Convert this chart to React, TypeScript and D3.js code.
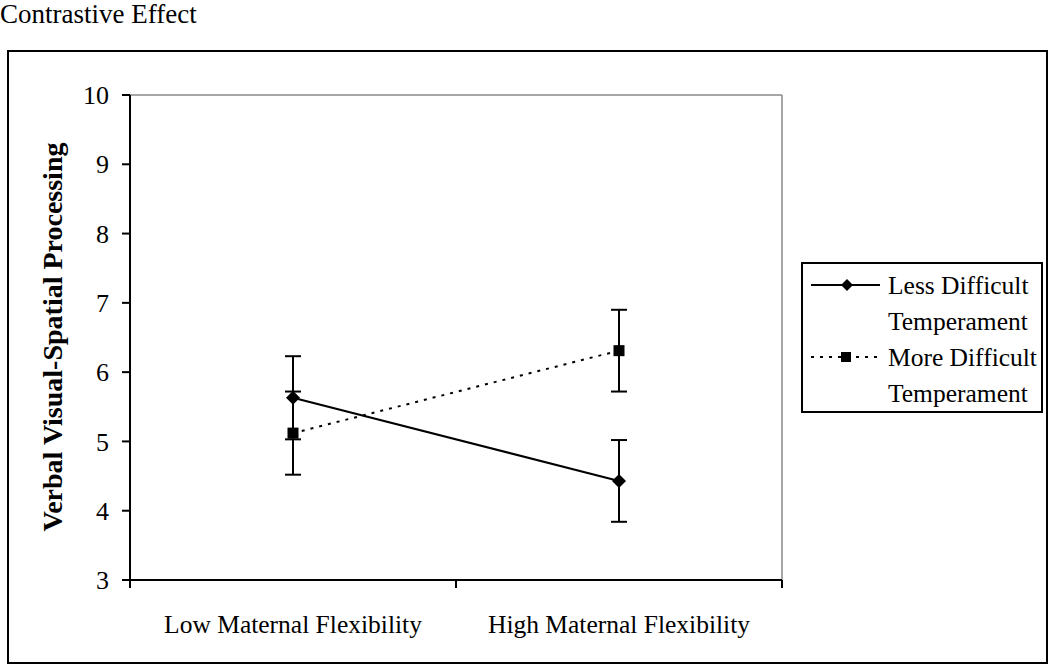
import React from "react";
import * as d3 from "d3";

const categories = ["Low Maternal Flexibility", "High Maternal Flexibility"];
const lessDifficult = [5.63, 4.43];
const lessErr = [0.6, 0.59];
const moreDifficult = [5.12, 6.31];
const moreErr = [0.6, 0.59];
const yTicks = [3, 4, 5, 6, 7, 8, 9, 10];

const W = 1050, H = 666;
const L = 130, R = 782, T = 95, B = 580;
const FONT = "Liberation Serif, Times New Roman, Times, serif";

export default function App() {
  const x = d3.scaleBand<string>().domain(categories).range([L, R]).paddingInner(0).paddingOuter(0);
  const cx = (c: string) => (x(c) as number) + x.bandwidth() / 2;
  const y = d3.scaleLinear().domain([3, 10]).range([B, T]);
  const line = d3.line<number>().x((_, i) => cx(categories[i])).y((v) => y(v));
  const cap = 8;

  const errBars = (vals: number[], errs: number[], key: string) =>
    vals.map((v, i) => {
      const px = cx(categories[i]);
      const y1 = y(v + errs[i]);
      const y2 = y(v - errs[i]);
      return (
        <g key={key + i} stroke="#000" strokeWidth={2}>
          <line x1={px} x2={px} y1={y1} y2={y2} />
          <line x1={px - cap} x2={px + cap} y1={y1} y2={y1} />
          <line x1={px - cap} x2={px + cap} y1={y2} y2={y2} />
        </g>
      );
    });

  const diamond = (px: number, py: number, k: string, s = 7) => (
    <path key={k} d={`M${px},${py - s}L${px + s},${py}L${px},${py + s}L${px - s},${py}Z`} fill="#000" />
  );
  const square = (px: number, py: number, k: string, s = 5.5) => (
    <rect key={k} x={px - s} y={py - s} width={2 * s} height={2 * s} fill="#000" />
  );
  const ts = { fontFamily: FONT };

  return (
    <svg width={W} height={H} style={{ position: "absolute", left: 0, top: 0, background: "#fff", fontFamily: FONT }}>
      <text x={0} y={23} fontSize={27} style={ts}>Contrastive Effect</text>
      <rect x={8} y={51} width={1039} height={612} fill="none" stroke="#000" strokeWidth={2} />

      <line x1={L} x2={R} y1={T} y2={T} stroke="#888" strokeWidth={1.5} />
      <line x1={R} x2={R} y1={T} y2={B} stroke="#888" strokeWidth={1.5} />
      <line x1={L} x2={L} y1={T} y2={B} stroke="#000" strokeWidth={2} />
      <line x1={L} x2={R} y1={B} y2={B} stroke="#000" strokeWidth={2} />

      {yTicks.map((t) => (
        <g key={"yt" + t}>
          <line x1={L - 8} x2={L} y1={y(t)} y2={y(t)} stroke="#000" strokeWidth={2} />
          <text x={109} y={y(t)} dy="0.35em" textAnchor="end" fontSize={26} style={ts}>{t}</text>
        </g>
      ))}
      {[L, (L + R) / 2, R].map((px, i) => (
        <line key={"xt" + i} x1={px} x2={px} y1={B} y2={B + 8} stroke="#000" strokeWidth={2} />
      ))}
      {categories.map((c) => (
        <text key={c} x={cx(c)} y={633} textAnchor="middle" fontSize={25.5} style={ts}>{c}</text>
      ))}

      <text transform={`translate(62,${337}) rotate(-90)`} textAnchor="middle" fontSize={28} fontWeight="bold" style={ts}>
        Verbal Visual-Spatial Processing
      </text>

      {errBars(lessDifficult, lessErr, "le")}
      {errBars(moreDifficult, moreErr, "me")}

      <path d={line(lessDifficult) || ""} fill="none" stroke="#000" strokeWidth={2} />
      <path d={line(moreDifficult) || ""} fill="none" stroke="#000" strokeWidth={2} strokeDasharray="3,6" />
      {lessDifficult.map((v, i) => diamond(cx(categories[i]), y(v), "d" + i))}
      {moreDifficult.map((v, i) => square(cx(categories[i]), y(v), "s" + i))}

      <rect x={802} y={263} width={240} height={149} fill="#fff" stroke="#000" strokeWidth={2} />
      <line x1={811} x2={880} y1={285} y2={285} stroke="#000" strokeWidth={2} />
      {diamond(847, 285, "ld", 6)}
      <text x={888} y={285} dy="0.35em" fontSize={25.5} style={ts}>Less Difficult</text>
      <text x={888} y={321} dy="0.35em" fontSize={25.5} style={ts}>Temperament</text>
      <line x1={811} x2={880} y1={357} y2={357} stroke="#000" strokeWidth={2} strokeDasharray="3,6" />
      {square(846, 357, "ls", 5)}
      <text x={888} y={357} dy="0.35em" fontSize={25.5} style={ts}>More Difficult</text>
      <text x={888} y={393} dy="0.35em" fontSize={25.5} style={ts}>Temperament</text>
    </svg>
  );
}
